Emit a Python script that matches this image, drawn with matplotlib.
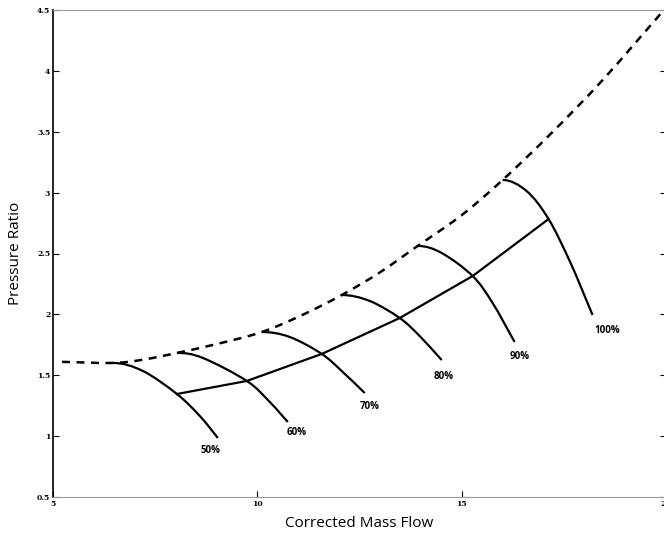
import matplotlib
matplotlib.use("Agg")
import matplotlib.pyplot as plt
from matplotlib.path import Path
from matplotlib.patches import PathPatch

# Constant-speed lines (percent of design speed): mass flow vs pressure ratio
speed_labels = ["50%", "60%", "70%", "80%", "90%", "100%"]

speed_50_x = [6.467, 7.200, 8.032, 8.594, 9.034]
speed_50_y = [1.601, 1.535, 1.346, 1.165, 0.985]
speed_60_x = [8.032, 8.667, 9.743, 10.306, 10.746]
speed_60_y = [1.683, 1.642, 1.453, 1.280, 1.116]
speed_70_x = [10.110, 10.795, 11.577, 12.090, 12.628]
speed_70_y = [1.855, 1.814, 1.675, 1.527, 1.354]
speed_80_x = [12.066, 12.751, 13.484, 13.973, 14.511]
speed_80_y = [2.159, 2.110, 1.970, 1.822, 1.625]
speed_90_x = [13.924, 14.511, 15.269, 15.758, 16.296]
speed_90_y = [2.562, 2.504, 2.315, 2.093, 1.773]
speed_100_x = [16.002, 16.589, 17.127, 17.665, 18.203]
speed_100_y = [3.104, 3.013, 2.783, 2.422, 1.995]

# Surge line (dashed) and operating line (solid)
surge_x = [5.22, 6.467, 7.2, 8.032, 9.05, 10.11, 11.1, 12.066, 13.0, 13.924, 15.0, 16.002, 17.20, 18.45, 19.95]
surge_y = [1.61, 1.601, 1.628, 1.683, 1.76, 1.855, 1.995, 2.159, 2.345, 2.562, 2.815, 3.104, 3.49, 3.925, 4.50]
oper_x = [8.032, 9.743, 11.577, 13.484, 15.269, 17.127]
oper_y = [1.346, 1.453, 1.675, 1.970, 2.315, 2.783]

# Label anchor positions for each speed line
label_x = [8.85, 10.97, 12.75, 14.56, 16.42, 18.55]
label_y = [0.88, 1.03, 1.24, 1.49, 1.65, 1.87]

x_ticks = [5, 10, 15, 20]
y_ticks = [0.5, 1, 1.5, 2, 2.5, 3, 3.5, 4, 4.5]
y_tick_labels = ["0.5", "1", "1.5", "2", "2.5", "3", "3.5", "4", "4.5"]

speeds_x = [speed_50_x, speed_60_x, speed_70_x, speed_80_x, speed_90_x, speed_100_x]
speeds_y = [speed_50_y, speed_60_y, speed_70_y, speed_80_y, speed_90_y, speed_100_y]


def smooth_path(xs, ys, flat_start=False):
    """Cubic Bezier path passing through every given point (Catmull-Rom tangents)."""
    n = len(xs)
    tx, ty = [], []
    for i in range(n):
        if i == 0:
            dx, dy = xs[1] - xs[0], ys[1] - ys[0]
            if flat_start:
                dy = 0.0
        elif i == n - 1:
            dx, dy = xs[-1] - xs[-2], ys[-1] - ys[-2]
        else:
            dx, dy = (xs[i + 1] - xs[i - 1]) / 2, (ys[i + 1] - ys[i - 1]) / 2
        tx.append(dx)
        ty.append(dy)
    verts = [(xs[0], ys[0])]
    codes = [Path.MOVETO]
    for i in range(n - 1):
        verts += [(xs[i] + tx[i] / 3, ys[i] + ty[i] / 3),
                  (xs[i + 1] - tx[i + 1] / 3, ys[i + 1] - ty[i + 1] / 3),
                  (xs[i + 1], ys[i + 1])]
        codes += [Path.CURVE4] * 3
    return Path(verts, codes)


fig = plt.figure(figsize=(6.64, 5.35), dpi=100)
ax = fig.add_axes([53 / 664, 38 / 535, 613 / 664, 487 / 535])

for xs, ys in zip(speeds_x, speeds_y):
    ax.add_patch(PathPatch(smooth_path(xs, ys, flat_start=True), fill=False,
                           edgecolor="black", lw=1.6, capstyle="butt"))

ax.plot(oper_x, oper_y, color="black", lw=1.6)
ax.add_patch(PathPatch(smooth_path(surge_x, surge_y), fill=False, edgecolor="black",
                       lw=1.8, linestyle=(0, (3.2, 2.6))))

for lab, lx, ly in zip(speed_labels, label_x, label_y):
    ax.text(lx, ly, lab, fontsize=7, fontweight="bold", family="Open Sans",
            ha="center", va="center")

ax.set_xlim(5, 20)
ax.set_ylim(0.5, 4.5)
ax.set_xticks(x_ticks)
ax.set_xticklabels([str(t) for t in x_ticks])
ax.set_yticks(y_ticks)
ax.set_yticklabels(y_tick_labels)

ax.tick_params(direction="in", length=4, width=0.8, labelsize=5.5, pad=2,
               top=False, right=True)
for lab in ax.get_xticklabels() + ax.get_yticklabels():
    lab.set_fontweight("bold")
    lab.set_family("DejaVu Serif")

ax.spines["left"].set_color("black")
ax.spines["left"].set_linewidth(1.2)
for side in ["bottom", "top", "right"]:
    ax.spines[side].set_color("#9a9a9a")
    ax.spines[side].set_linewidth(0.8)
    ax.spines[side].set_linestyle((0, (1, 1)))

ax.set_xlabel("Corrected Mass Flow", fontsize=11, family="Open Sans", labelpad=6)
ax.set_ylabel("Pressure Ratio", fontsize=11, family="Open Sans", labelpad=10)

fig.savefig("out.png", dpi=100)
